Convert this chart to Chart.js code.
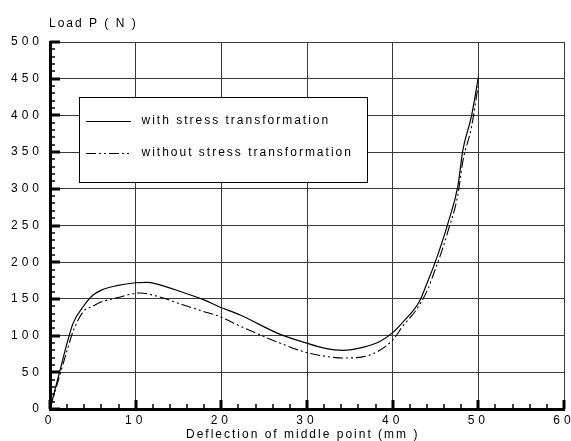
<!DOCTYPE html>
<html><head><meta charset="utf-8">
<script src="https://cdn.jsdelivr.net/npm/chart.js@4/dist/chart.umd.min.js"></script>
<style>html,body{margin:0;padding:0;background:#fff}</style>
</head><body><canvas id="c" width="571" height="441"></canvas>
<script>
// ---- data ----
const seriesNames = ['with stress transformation', 'without stress transformation'];
const deflectionWith = [0, 1, 2, 2.7, 3.9, 5.0, 6.0, 7.8, 10, 11.3, 12.4, 15.5, 17.9, 19.8, 22.2, 26.8, 29.9, 32, 34.2, 36.5, 38.5, 40, 41.4, 43.1, 44.1, 44.9, 45.7, 46.45, 47.6, 48.2, 49.2, 50];
const loadWith       = [0, 45, 90, 117, 140, 155, 162, 168, 172, 172.5, 170.5, 159, 149, 139, 128, 102, 90, 83, 80, 84, 92, 104, 121, 146, 174, 198, 225, 253, 303, 353, 399, 452];
const deflectionWithout = [0, 1, 2, 2.7, 3.9, 5.0, 5.8, 7.8, 10.5, 12.4, 15.5, 17.9, 19.8, 22.2, 26.8, 29.9, 32, 34.2, 36.5, 38.5, 40, 41.2, 42.8, 44.1, 44.9, 45.7, 46.45, 47.6, 48.2, 49.2, 50];
const loadWithout       = [0, 40, 80, 106, 133, 140, 145, 151.5, 158, 154, 142, 133, 126, 113, 90, 77, 72, 69.5, 71, 80, 94, 113, 136, 163, 188, 214, 242, 291, 338, 384, 442];
const xTickLabels = ['0', '10', '20', '30', '40', '50', '60'];
const yTickLabels = ['0', '50', '100', '150', '200', '250', '300', '350', '400', '450', '500'];
const xTitle = 'Deflection of middle point (mm )';
const yTitle = 'Load P ( N )';

const toPts = (xs, ys) => xs.map((x, i) => ({x: x, y: ys[i]}));
const FONT = '"Liberation Sans", Arial, sans-serif';
const DASH = [10, 3, 2, 3, 2, 3];

const decor = {
  id: 'decor',
  beforeDraw(chart) { chart.ctx.letterSpacing = '4px'; },
  afterDatasetsDraw(chart) {
    const ctx = chart.ctx, a = chart.chartArea;
    const xs = chart.scales.x, ys = chart.scales.y;
    ctx.save();
    ctx.letterSpacing = '0px';
    ctx.strokeStyle = '#000';
    // y ticks (inside)
    for (let v = 0; v <= 500; v += 10) {
      const p = Math.round(ys.getPixelForValue(v));
      const major = v % 50 === 0;
      ctx.lineWidth = major ? 3 : 1.5;
      ctx.beginPath(); ctx.moveTo(a.left, p); ctx.lineTo(a.left + (major ? 10 : 5), p); ctx.stroke();
    }
    // x ticks (inside)
    for (let v = 0; v <= 60; v += 2) {
      const p = Math.round(xs.getPixelForValue(v));
      const major = v % 10 === 0;
      ctx.lineWidth = major ? 3 : 1.5;
      ctx.beginPath(); ctx.moveTo(p, a.bottom); ctx.lineTo(p, a.bottom - (major ? 9 : 5)); ctx.stroke();
    }
    // legend box
    const bx = a.left + 29.5, by = a.top + 55.5, bw = 288, bh = 85;
    ctx.fillStyle = '#fff';
    ctx.fillRect(bx, by, bw, bh);
    ctx.lineWidth = 1;
    ctx.strokeRect(bx, by, bw, bh);
    const rows = [by + 23.5, by + 55];
    chart.data.datasets.forEach((ds, i) => {
      ctx.lineWidth = 1.2;
      ctx.setLineDash(ds.borderDash || []);
      ctx.beginPath(); ctx.moveTo(bx + 6.5, Math.round(rows[i]) + 0.5); ctx.lineTo(bx + 51.5, Math.round(rows[i]) + 0.5); ctx.stroke();
      ctx.setLineDash([]);
      ctx.fillStyle = '#000';
      ctx.font = '12px ' + FONT;
      ctx.letterSpacing = '2px';
      ctx.textBaseline = 'middle';
      ctx.textAlign = 'left';
      ctx.fillText(ds.label, bx + 62, rows[i]);
      ctx.letterSpacing = '0px';
    });
    // axis titles
    ctx.fillStyle = '#000';
    ctx.font = '12px ' + FONT;
    ctx.letterSpacing = '2px';
    ctx.textBaseline = 'alphabetic';
    ctx.textAlign = 'left';
    ctx.fillText(yTitle, 49, 27);
    ctx.fillText(xTitle, 186, 438);
    ctx.restore();
  }
};

new Chart(document.getElementById('c'), {
  type: 'scatter',
  data: {
    datasets: [
      {label: seriesNames[0], data: toPts(deflectionWith, loadWith), showLine: true, borderColor: '#000', borderWidth: 1.2, pointRadius: 0, cubicInterpolationMode: 'monotone', fill: false},
      {label: seriesNames[1], data: toPts(deflectionWithout, loadWithout), showLine: true, borderColor: '#000', borderWidth: 1.1, borderDash: DASH, pointRadius: 0, cubicInterpolationMode: 'monotone', fill: false}
    ]
  },
  options: {
    responsive: false, animation: false, devicePixelRatio: 1,
    layout: {padding: {top: 42, right: 7, left: 0, bottom: 0}},
    plugins: {legend: {display: false}, tooltip: {enabled: false}, title: {display: false}},
    scales: {
      x: {
        type: 'linear', min: 0, max: 60,
        ticks: {stepSize: 10, color: '#000', font: {family: FONT, size: 12}, padding: 4, maxRotation: 0,
          callback: (v) => xTickLabels[Math.round(v / 10)] ?? ''},
        grid: {color: '#3a3a3a', lineWidth: 1, drawTicks: false},
        border: {display: true, color: '#000', width: 3},
        afterFit(s) { s.height = 32; s.paddingLeft = 0; s.paddingRight = 0; }
      },
      y: {
        type: 'linear', min: 0, max: 500,
        ticks: {stepSize: 50, color: '#000', font: {family: FONT, size: 12}, padding: 7,
          callback: (v) => yTickLabels[Math.round(v / 50)] ?? ''},
        grid: {color: '#3a3a3a', lineWidth: 1, drawTicks: false},
        border: {display: true, color: '#000', width: 3},
        afterFit(s) { s.width = 50; s.paddingTop = 0; s.paddingBottom = 0; }
      }
    }
  },
  plugins: [decor]
});
</script></body></html>
